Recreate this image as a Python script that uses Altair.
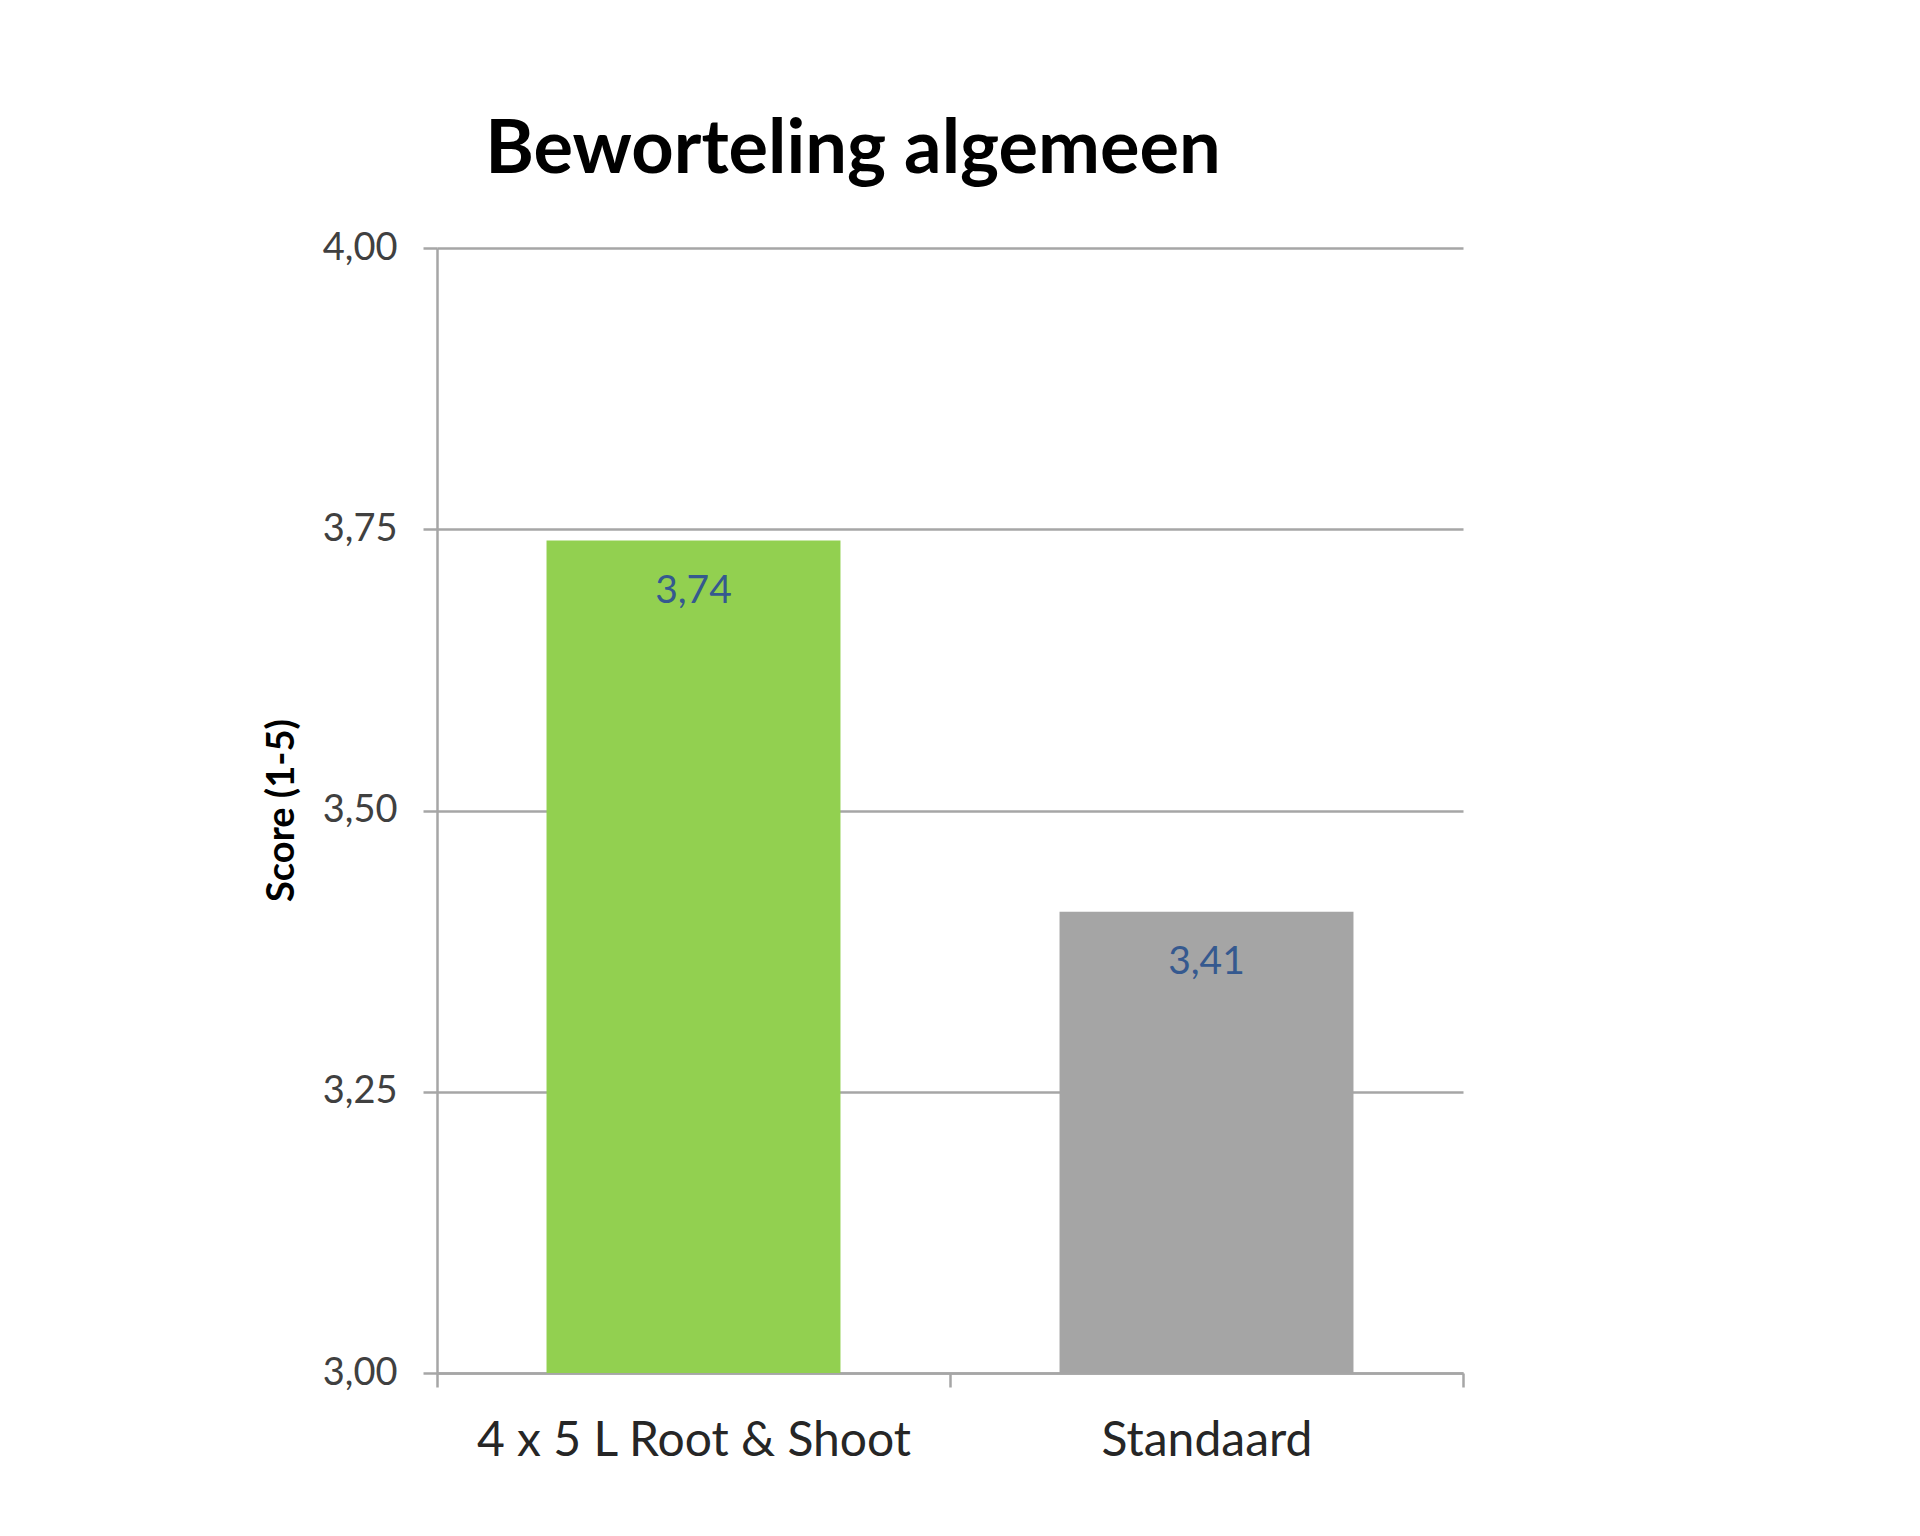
import pandas as pd
import altair as alt

# values
categories = ["4 x 5 L Root & Shoot", "Standaard"]
scores = [3.74, 3.41]
bar_colors = ["#92D050", "#A5A5A5"]
y_ticks = [3.0, 3.25, 3.5, 3.75, 4.0]

df = pd.DataFrame({"cat": categories, "score": scores})

grey = "#A6A6A6"

x_enc = alt.X(
    "cat:N",
    sort=categories,
    title=None,
    scale=alt.Scale(paddingInner=0, paddingOuter=0),
    axis=alt.Axis(
        labelAngle=0,
        labelFont="Lato",
        labelFontSize=48,
        labelColor="#262626",
        labelBaseline="alphabetic",
        labelPadding=68,
        labelLimit=0,
        tickBand="extent",
        tickSize=14,
        tickColor=grey,
        tickWidth=2.5,
        domainColor=grey,
        domainWidth=2.5,
        grid=False,
    ),
)

y_enc = alt.Y(
    "score:Q",
    title="Score (1-5)",
    scale=alt.Scale(domain=[3, 4], zero=False, nice=False),
    axis=alt.Axis(
        values=y_ticks,
        labelExpr="replace(format(datum.value, '.2f'), '.', ',')",
        labelFont="Lato",
        labelFontSize=38,
        labelColor="#404040",
        labelPadding=26,
        tickSize=14,
        tickColor=grey,
        tickWidth=2.5,
        domainColor=grey,
        domainWidth=2.5,
        gridColor=grey,
        gridWidth=2.5,
        titleFont="Lato",
        titleFontSize=38,
        titleFontWeight="bold",
        titleColor="#000000",
        titleAngle=270,
        titleAlign="center",
        titleBaseline="middle",
        titleX=-155,
        titleY=562,
    ),
)

bars = (
    alt.Chart(df)
    .mark_bar(width=alt.RelativeBandSize(0.573))
    .encode(
        x=x_enc,
        y=y_enc,
        y2=alt.datum(3),
        color=alt.Color(
            "cat:N",
            scale=alt.Scale(domain=categories, range=bar_colors),
            legend=None,
        ),
    )
)

labels = (
    alt.Chart(df)
    .transform_calculate(txt="replace(format(datum.score, '.2f'), '.', ',')")
    .mark_text(
        baseline="alphabetic",
        dy=62,
        font="Lato",
        fontSize=39,
        color="#35598F",
    )
    .encode(x=alt.X("cat:N", sort=categories), y="score:Q", text="txt:N")
)

chart = (
    (bars + labels)
    .properties(
        width=1026,
        height=1125,
        autosize=alt.AutoSizeParams(type="none"),
        padding={"left": 429, "top": 240, "right": 400, "bottom": 160},
        title=alt.TitleParams(
            "Beworteling algemeen",
            font="Lato",
            fontSize=74,
            fontWeight="bold",
            color="#000000",
            anchor="middle",
            baseline="alphabetic",
            offset=76,
            dx=-97,
            dy=94,
        ),
    )
    .configure_view(stroke=None)
)

chart.save("out.html", embed_options={"renderer": "svg", "actions": False})
